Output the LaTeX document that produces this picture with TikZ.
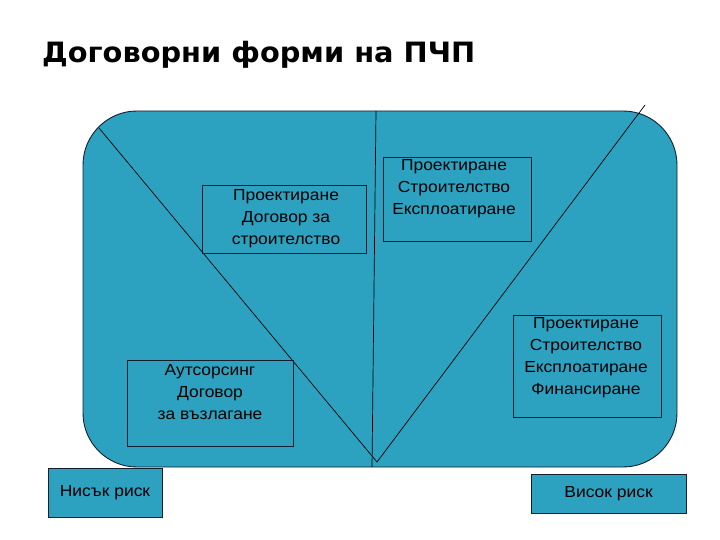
\documentclass[tikz,border=0pt]{standalone}
\usepackage{fontspec}
\usepackage{graphicx}
\setmainfont{Liberation Sans}
\newfontfamily\titlefont{DejaVu Sans}
\definecolor{panelteal}{RGB}{45,162,192}
\definecolor{edgedark}{RGB}{20,30,45}
\newcommand{\wl}[1]{\scalebox{1.09}[1]{#1}}
\tikzset{
  panel/.style={draw=edgedark, fill=panelteal, line width=0.9pt, rounded corners=54pt},
  boxframe/.style={draw=edgedark, line width=0.8pt, rectangle, inner sep=0pt},
  riskbox/.style={draw=edgedark, fill=panelteal, line width=0.8pt, rectangle, inner sep=0pt},
  boxtext/.style={inner sep=0pt, align=center, font=\fontsize{16}{22}\selectfont, text=black},
  divider/.style={draw=black, line width=0.7pt},
}
\begin{document}
\begin{tikzpicture}[x=1pt,y=-1pt]
\useasboundingbox (0,0) rectangle (720,540);
\fill[white] (0,0) rectangle (720,540);
% title
\node[anchor=base west, inner sep=0pt, font=\titlefont\bfseries\fontsize{28}{30}\selectfont] (title) at (42,63)
  {\resizebox{433pt}{\height}{Договорни форми на ПЧП}};
% panel
\draw[panel] (83,111) rectangle (677,467);
\coordinate (panelTop) at (376,111);
\coordinate (panelBot) at (372,467);
\coordinate (leftEnd) at (99,128);
\coordinate (rightEnd) at (645,105);
\coordinate (apex) at (377,462);
% lines
\draw[divider] (leftEnd) -- (apex) -- (rightEnd);
\draw[divider] (panelTop) -- (panelBot);
% boxes
\node[boxframe, minimum width=164pt, minimum height=68pt] (b1) at (284,219) {};
\node[boxtext, anchor=north] (t1) at (286,189) {\wl{Проектиране}\\\wl{Договор за}\\\wl{строителство}};
\node[boxframe, minimum width=148pt, minimum height=84pt] (b2) at (457,199) {};
\node[boxtext, anchor=north] (t2) at (454,159) {\wl{Проектиране}\\\wl{Строителство}\\\wl{Експлоатиране}};
\node[boxframe, minimum width=166pt, minimum height=86pt] (b3) at (210,403) {};
\node[boxtext, anchor=north] (t3) at (210,364) {\wl{Аутсорсинг}\\\wl{Договор}\\\wl{за възлагане}};
\node[boxframe, minimum width=148pt, minimum height=102pt] (b4) at (587,366) {};
\node[boxtext, anchor=north] (t4) at (586,317) {\wl{Проектиране}\\\wl{Строителство}\\\wl{Експлоатиране}\\\wl{Финансиране}};
\node[riskbox, minimum width=114pt, minimum height=49pt, boxtext] (low) at (105,492.5) {\wl{Нисък риск}};
\node[riskbox, minimum width=155pt, minimum height=39pt, boxtext] (high) at (608.5,493.5) {\wl{Висок риск}};
\end{tikzpicture}
\end{document}
